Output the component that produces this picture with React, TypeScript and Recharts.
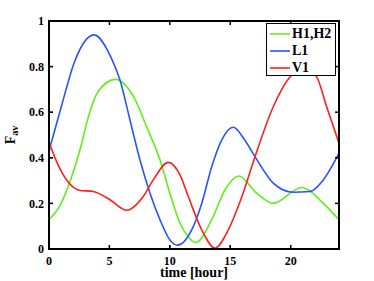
import React from 'react';
import { LineChart, Line, XAxis, YAxis } from 'recharts';

const greenT = [0, 0.8, 1.85, 2.68, 3.23, 4.06, 5.5, 7.0, 8.08, 9.19, 10.0, 10.84, 11.5, 12.15, 13.46, 14.57, 15.7, 17.19, 18.56, 20.9, 22.7, 24];
const greenV = [0.128, 0.18, 0.312, 0.458, 0.574, 0.69, 0.744, 0.668, 0.536, 0.39, 0.245, 0.114, 0.055, 0.028, 0.128, 0.26, 0.32, 0.245, 0.2, 0.27, 0.2, 0.128];

const blueT = [0, 1.1, 2.12, 3.72, 5.16, 5.88, 6.7, 7.53, 8.36, 9.19, 10.0, 10.65, 11.81, 12.64, 13.46, 14.29, 15.25, 16.2, 17.05, 18.56, 20.2, 21.6, 22.7, 24];
const blueV = [0.43, 0.64, 0.822, 0.939, 0.837, 0.74, 0.566, 0.39, 0.245, 0.128, 0.04, 0.017, 0.084, 0.2, 0.36, 0.478, 0.534, 0.478, 0.405, 0.289, 0.249, 0.252, 0.303, 0.42];

const redT = [0, 0.74, 1.57, 2.5, 3.67, 5.05, 6.43, 7.8, 8.63, 9.87, 10.84, 11.53, 12.64, 13.74, 14.84, 15.9, 17.05, 18.56, 19.95, 21.05, 22.15, 22.98, 24];
const redV = [0.468, 0.37, 0.295, 0.258, 0.252, 0.216, 0.17, 0.23, 0.303, 0.38, 0.325, 0.23, 0.084, 0.004, 0.084, 0.22, 0.405, 0.624, 0.755, 0.8, 0.755, 0.624, 0.464];

const seriesNames = ['H1,H2', 'L1', 'V1'];
const seriesKeys = ['g', 'b', 'r'];
const seriesColors = ['#5ef01a', '#2a52ff', '#ff1f1f'];

const xTicks = [0, 5, 10, 15, 20];
const yTicks = [0, 0.2, 0.4, 0.6, 0.8, 1];
const xDomain = [0, 24];
const yDomain = [0, 1];

const buildTable = () => {
  const map = new Map<number, any>();
  const add = (ts: number[], vs: number[], key: string) => {
    ts.forEach((t, i) => {
      const row = map.get(t) || { t };
      row[key] = vs[i];
      map.set(t, row);
    });
  };
  add(greenT, greenV, 'g');
  add(blueT, blueV, 'b');
  add(redT, redV, 'r');
  return Array.from(map.values()).sort((a, b) => a.t - b.t);
};
const table = buildTable();

const FONT = '"Liberation Serif", "Times New Roman", serif';
const MARGIN = { top: 21, right: 35, bottom: 0, left: 9 };
const TL = 4;

const XLabel = (props: any) => {
  const vb = props.viewBox;
  const left = vb.x;
  const right = vb.x + vb.width;
  const bottom = vb.y;
  const top = MARGIN.top;
  const sx = (t: number) => left + ((t - xDomain[0]) / (xDomain[1] - xDomain[0])) * (right - left);
  const sy = (v: number) => bottom - ((v - yDomain[0]) / (yDomain[1] - yDomain[0])) * (bottom - top);
  return (
    <g>
      <path
        d={`M${left},${top}L${right},${top}L${right},${bottom}L${left},${bottom}Z`}
        fill="none"
        stroke="#000"
        strokeWidth={2}
      />
      {xTicks.map((t) => (
        <g key={'x' + t}>
          <path d={`M${sx(t)},${top}L${sx(t)},${top + TL}`} stroke="#000" strokeWidth={1.5} />
          <path d={`M${sx(t)},${bottom - TL}L${sx(t)},${bottom}`} stroke="#000" strokeWidth={1.5} />
        </g>
      ))}
      {yTicks.map((v) => (
        <g key={'y' + v}>
          <path d={`M${left},${sy(v)}L${left + TL},${sy(v)}`} stroke="#000" strokeWidth={1.5} />
          <path d={`M${right - TL},${sy(v)}L${right},${sy(v)}`} stroke="#000" strokeWidth={1.5} />
        </g>
      ))}
      <text x={left + (right - left) / 2} y={277} textAnchor="middle" fontFamily={FONT} fontWeight="bold" fontSize={14} fill="#000">
        time [hour]
      </text>
    </g>
  );
};

const YLabel = (props: any) => {
  const vb = props.viewBox;
  const cx = 15;
  const cy = vb.y + vb.height / 2;
  return (
    <text transform={`translate(${cx},${cy}) rotate(-90)`} textAnchor="middle" fontFamily={FONT} fontWeight="bold" fill="#000">
      <tspan fontSize={14}>F</tspan>
      <tspan fontSize={10} dy={3}>av</tspan>
    </text>
  );
};

const LegendBox = () => (
  <div
    style={{
      position: 'absolute',
      left: 266,
      top: 23,
      boxSizing: 'border-box',
      width: 70,
      height: 53,
      border: '1.5px solid #000',
      background: '#fff',
      paddingTop: 1,
    }}
  >
    {seriesNames.map((n, i) => (
      <div key={n} style={{ display: 'flex', alignItems: 'center', height: 17 }}>
        <svg width={24} height={4} style={{ display: 'block' }}>
          <line x1={3} y1={2} x2={23} y2={2} stroke={seriesColors[i]} strokeWidth={1.6} />
        </svg>
        <span style={{ fontFamily: FONT, fontWeight: 'bold', fontSize: 14, marginLeft: 1, lineHeight: '17px', color: '#000' }}>
          {n}
        </span>
      </div>
    ))}
  </div>
);

export default function App() {
  return (
    <div style={{ position: 'absolute', left: 0, top: 0, width: 374, height: 281, background: '#fff' }}>
      <LineChart width={374} height={281} data={table} margin={MARGIN}>
        <XAxis
          dataKey="t"
          type="number"
          domain={xDomain}
          ticks={xTicks}
          height={32}
          tickSize={-4}
          tickMargin={11.5}
          stroke="#000"
          fontSize={12}
          fontFamily={FONT}
          fontWeight="bold"
          label={<XLabel />}
        />
        <YAxis
          type="number"
          domain={yDomain}
          ticks={yTicks}
          width={40}
          tickSize={-4}
          tickMargin={9}
          stroke="#000"
          fontSize={12}
          fontFamily={FONT}
          fontWeight="bold"
          label={<YLabel />}
        />
        {seriesKeys.map((k, i) => (
          <Line
            key={k}
            dataKey={k}
            name={seriesNames[i]}
            type="monotone"
            connectNulls
            stroke={seriesColors[i]}
            strokeWidth={1.6}
            dot={false}
            activeDot={false}
            isAnimationActive={false}
          />
        ))}
      </LineChart>
      <LegendBox />
    </div>
  );
}
